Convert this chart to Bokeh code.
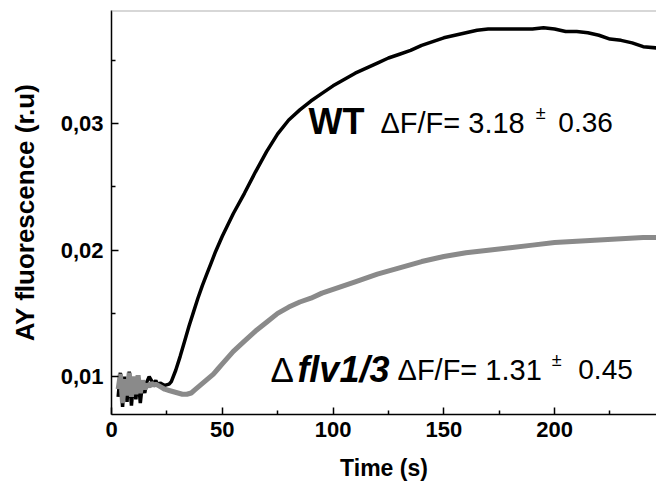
from bokeh.plotting import figure
from bokeh.models import Label, Span, FixedTicker
from bokeh.embed import file_html
from bokeh.resources import INLINE

# ---- data ----
wt_t = [3, 4, 5, 6, 7, 8, 9, 10, 11, 12, 13, 14, 15, 16, 17, 18, 19, 20, 21, 22,
        24, 26, 27, 29, 31, 33, 35, 37, 39, 41, 43, 45, 47, 50, 55, 60, 65, 70, 75,
        80, 85, 90, 95, 100, 105, 110, 115, 120, 125, 130, 135, 140, 145, 150, 155,
        160, 165, 170, 175, 180, 185, 190, 195, 200, 205, 210, 215, 220, 225, 230,
        235, 240, 246]
wt_v = [0.0084, 0.0103, 0.0076, 0.0100, 0.0080, 0.0104, 0.0077, 0.0098, 0.0082,
        0.0101, 0.0079, 0.0095, 0.0087, 0.0096, 0.0100, 0.0097, 0.0094, 0.0097,
        0.0093, 0.0095, 0.0093, 0.0094, 0.0096, 0.0105, 0.0116, 0.0128, 0.0140,
        0.0151, 0.0162, 0.0172, 0.0181, 0.0190, 0.0199, 0.0211, 0.0229, 0.0245,
        0.0262, 0.0278, 0.0292, 0.0303, 0.0311, 0.0318, 0.0324, 0.0330, 0.0335,
        0.0340, 0.0344, 0.0348, 0.0352, 0.0355, 0.0358, 0.0362, 0.0365, 0.0368,
        0.0370, 0.0372, 0.0374, 0.0375, 0.0375, 0.0375, 0.0375, 0.0375, 0.0376,
        0.0375, 0.0373, 0.0373, 0.0372, 0.0370, 0.0367, 0.0366, 0.0364, 0.0361,
        0.0360]

flv_t = [3, 4, 5, 6, 7, 8, 9, 10, 11, 12, 13, 14, 15, 16, 17, 18, 19, 20, 22, 24,
         26, 28, 30, 32, 34, 36, 38, 40, 42, 44, 46, 48, 50, 55, 60, 65, 70, 75,
         80, 85, 90, 95, 100, 110, 120, 130, 140, 150, 160, 170, 180, 190, 200,
         210, 220, 230, 240, 246]
flv_v = [0.0090, 0.0102, 0.0079, 0.0098, 0.0085, 0.0103, 0.0084, 0.0100, 0.0086,
         0.0101, 0.0087, 0.0097, 0.0090, 0.0094, 0.0092, 0.0095, 0.0093, 0.0094,
         0.0092, 0.0090, 0.0089, 0.0088, 0.0087, 0.0086, 0.0086, 0.0087, 0.0090,
         0.0093, 0.0096, 0.0099, 0.0102, 0.0106, 0.0110, 0.0120, 0.0128, 0.0136,
         0.0143, 0.0150, 0.0155, 0.0159, 0.0162, 0.0166, 0.0169, 0.0175, 0.0181,
         0.0186, 0.0191, 0.0195, 0.0198, 0.0200, 0.0202, 0.0204, 0.0206, 0.0207,
         0.0208, 0.0209, 0.0210, 0.0210]

x_ticks = [0, 50, 100, 150, 200]
y_ticks = [0.01, 0.02, 0.03]
y_tick_labels = ["0,01", "0,02", "0,03"]

X_MIN, X_MAX = 0, 246
Y_MIN, Y_MAX = 0.0070, 0.03896

FONT = "Liberation Sans"

p = figure(width=656, height=487, output_backend="svg", toolbar_location=None,
           x_range=(X_MIN, X_MAX), y_range=(Y_MIN, Y_MAX),
           min_border_left=111, min_border_right=0, min_border_top=10,
           min_border_bottom=73)
p.outline_line_color = None
p.grid.visible = False
p.background_fill_color = "white"

p.line(wt_t, wt_v, line_color="black", line_width=3.5)
p.line(flv_t, flv_v, line_color="#8a8a8a", line_width=5)

p.add_layout(Span(location=Y_MAX, dimension="width", line_color="#b0b0b0",
                  line_width=2))

for ax in (p.xaxis[0], p.yaxis[0]):
    ax.axis_line_color = "black"
    ax.axis_line_width = 1.5
    ax.major_tick_line_width = 1.5
    ax.minor_tick_line_width = 1.5
    ax.major_tick_in = 7
    ax.major_tick_out = 0
    ax.minor_tick_in = 4
    ax.minor_tick_out = 0
    ax.major_label_text_font = FONT
    ax.major_label_text_font_style = "bold"
    ax.major_label_text_font_size = "22px"
    ax.major_label_text_color = "black"
    ax.axis_label_text_font = FONT
    ax.axis_label_text_font_style = "bold"
    ax.axis_label_text_color = "black"

p.xaxis.ticker = FixedTicker(ticks=x_ticks, minor_ticks=[25, 75, 125, 175, 225])
p.yaxis.ticker = FixedTicker(ticks=y_ticks, minor_ticks=[0.015, 0.025, 0.035])
p.yaxis.major_label_overrides = {t: s for t, s in zip(y_ticks, y_tick_labels)}
p.xaxis.major_label_standoff = 7
p.yaxis.major_label_standoff = 8
p.xaxis.axis_label = "Time (s)"
p.yaxis.axis_label = "AY fluorescence (r.u)"
p.xaxis.axis_label_text_font_size = "23px"
p.yaxis.axis_label_text_font_size = "26px"
p.xaxis.axis_label_standoff = 15
p.yaxis.axis_label_standoff = 18


def lab(x, y, text, size, style="normal", color="black"):
    p.add_layout(Label(x=x, y=y, text=text, text_font=FONT,
                       text_font_size=size, text_font_style=style,
                       text_color=color, text_baseline="alphabetic",
                       text_align="left"))


# WT annotation
lab(88.9, 0.03016, "WT", "36px", "bold")
lab(121.4, 0.03008, "\u0394F/F= 3.18", "29px")
lab(191.5, 0.03085, "\u00b1", "18px")
lab(201.7, 0.03008, "0.36", "28px")

# flv1/3 annotation
lab(71.8, 0.01055, "\u0394", "35px")
lab(83.9, 0.01055, "flv1/3", "36px", "bold italic")
lab(129.1, 0.01055, "\u0394F/F= 1.31", "29px")
lab(198.7, 0.01133, "\u00b1", "18px")
lab(210.7, 0.01055, "0.45", "28px")

open("out.html", "w").write(file_html(p, INLINE))
